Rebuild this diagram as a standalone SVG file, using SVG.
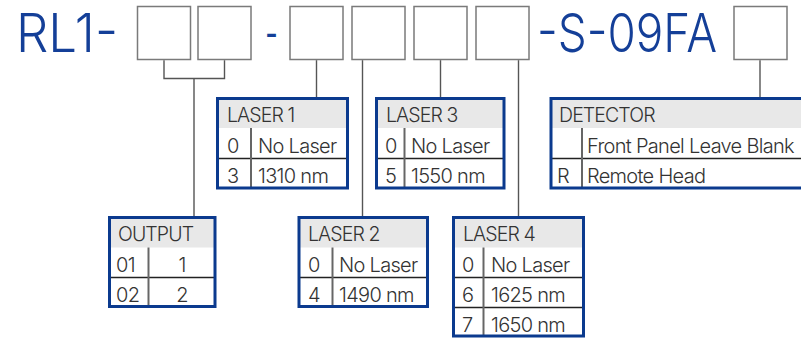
<svg xmlns="http://www.w3.org/2000/svg" width="801" height="338" viewBox="0 0 801 338">
<style>
.title{font-family:Inter,"Liberation Sans",Arial,sans-serif;font-weight:300;font-size:54px;fill:#143f98}
.slot{fill:#fff;stroke:#7a7a7a;stroke-width:1.5}
.conn{fill:none;stroke:#555;stroke-width:1.4}
.hdr{fill:#e8e8e8}
.frame{fill:none;stroke:#0b3a8e;stroke-width:3}
.rowline{stroke:#222;stroke-width:1.5}
.colline{stroke:#666;stroke-width:2}
.ht{font-family:Inter,"Liberation Sans",Arial,sans-serif;font-weight:300;font-size:19.5px;letter-spacing:-0.9px;fill:#333}
.t{font-family:Inter,"Liberation Sans",Arial,sans-serif;font-weight:300;font-size:20px;letter-spacing:-0.7px;fill:#333}
</style>
<rect width="801" height="338" fill="#fff"/>
<g id="title">
<text class="title" x="16" y="52" textLength="102" lengthAdjust="spacingAndGlyphs">RL1-</text>
<text class="title" x="265" y="52" textLength="13" lengthAdjust="spacingAndGlyphs">-</text>
<text class="title" x="537" y="52" textLength="180" lengthAdjust="spacingAndGlyphs">-S-09FA</text>
</g>
<g id="slots">
<rect class="slot" x="137.5" y="6.5" width="53" height="53"/>
<rect class="slot" x="198" y="6.5" width="53" height="53"/>
<rect class="slot" x="290" y="6.5" width="53" height="53"/>
<rect class="slot" x="352" y="6.5" width="53" height="53"/>
<rect class="slot" x="414" y="6.5" width="53" height="53"/>
<rect class="slot" x="476" y="6.5" width="53" height="53"/>
<rect class="slot" x="734" y="6.5" width="53" height="53"/>
</g>
<g id="connectors">
<path class="conn" d="M164,60.2V78.5H224.5V60.2M194,78.5V216"/>
<path class="conn" d="M316.5,60.2V97"/>
<path class="conn" d="M362.5,60.2V216"/>
<path class="conn" d="M440.5,60.2V97"/>
<path class="conn" d="M518.5,60.2V216"/>
<path class="conn" d="M760,60.2V97"/>
</g>
<g id="laser1">
<rect class="hdr" x="217.5" y="98.5" width="130" height="29.5"/>
<line class="rowline" x1="217.5" y1="158.5" x2="347.5" y2="158.5"/>
<line class="colline" x1="251" y1="128" x2="251" y2="188"/>
<rect class="frame" x="217.5" y="98.5" width="130" height="89.5"/>
<text class="ht" x="227" y="122">LASER 1</text>
<text class="t" x="227" y="153">0</text><text class="t" x="258" y="153">No Laser</text>
<text class="t" x="227" y="183">3</text><text class="t" x="258" y="183">1310 nm</text>
</g>
<g id="laser3">
<rect class="hdr" x="376.5" y="98.5" width="127.5" height="29.5"/>
<line class="rowline" x1="376.5" y1="158.5" x2="504" y2="158.5"/>
<line class="colline" x1="404.5" y1="128" x2="404.5" y2="188"/>
<rect class="frame" x="376.5" y="98.5" width="127.5" height="89.5"/>
<text class="ht" x="386" y="122">LASER 3</text>
<text class="t" x="385" y="153">0</text><text class="t" x="411" y="153">No Laser</text>
<text class="t" x="385" y="183">5</text><text class="t" x="411" y="183">1550 nm</text>
</g>
<g id="detector">
<rect class="hdr" x="551" y="98.5" width="260" height="29.5"/>
<line class="rowline" x1="551" y1="158.5" x2="811" y2="158.5"/>
<line class="colline" x1="582" y1="128" x2="582" y2="188"/>
<rect class="frame" x="551" y="98.5" width="300" height="89.5"/>
<text class="ht" x="559" y="122">DETECTOR</text>
<text class="t" x="587" y="153">Front Panel Leave Blank</text>
<text class="t" x="557" y="183">R</text><text class="t" x="587" y="183">Remote Head</text>
</g>
<g id="output">
<rect class="hdr" x="109.5" y="217.5" width="105.5" height="30"/>
<line class="rowline" x1="109.5" y1="277.5" x2="215" y2="277.5"/>
<line class="colline" x1="148.5" y1="247.5" x2="148.5" y2="306.5"/>
<rect class="frame" x="109.5" y="217.5" width="105.5" height="89"/>
<text class="ht" x="118" y="241">OUTPUT</text>
<text class="t" x="116" y="272">01</text><text class="t" x="182" y="272" text-anchor="middle">1</text>
<text class="t" x="116" y="302">02</text><text class="t" x="182" y="302" text-anchor="middle">2</text>
</g>
<g id="laser2">
<rect class="hdr" x="299" y="217.5" width="128.5" height="30"/>
<line class="rowline" x1="299" y1="277.5" x2="427.5" y2="277.5"/>
<line class="colline" x1="332.5" y1="247.5" x2="332.5" y2="306.5"/>
<rect class="frame" x="299" y="217.5" width="128.5" height="89"/>
<text class="ht" x="308" y="241">LASER 2</text>
<text class="t" x="308" y="272">0</text><text class="t" x="339" y="272">No Laser</text>
<text class="t" x="308" y="302">4</text><text class="t" x="339" y="302">1490 nm</text>
</g>
<g id="laser4">
<rect class="hdr" x="453.5" y="217.5" width="130" height="30"/>
<line class="rowline" x1="453.5" y1="277.5" x2="583.5" y2="277.5"/>
<line class="rowline" x1="453.5" y1="307.5" x2="583.5" y2="307.5"/>
<line class="colline" x1="483.5" y1="247.5" x2="483.5" y2="335"/>
<rect class="frame" x="453.5" y="217.5" width="130" height="118.5"/>
<text class="ht" x="463" y="241">LASER 4</text>
<text class="t" x="462" y="272">0</text><text class="t" x="491" y="272">No Laser</text>
<text class="t" x="462" y="302">6</text><text class="t" x="491" y="302">1625 nm</text>
<text class="t" x="462" y="332">7</text><text class="t" x="491" y="332">1650 nm</text>
</g>
</svg>
